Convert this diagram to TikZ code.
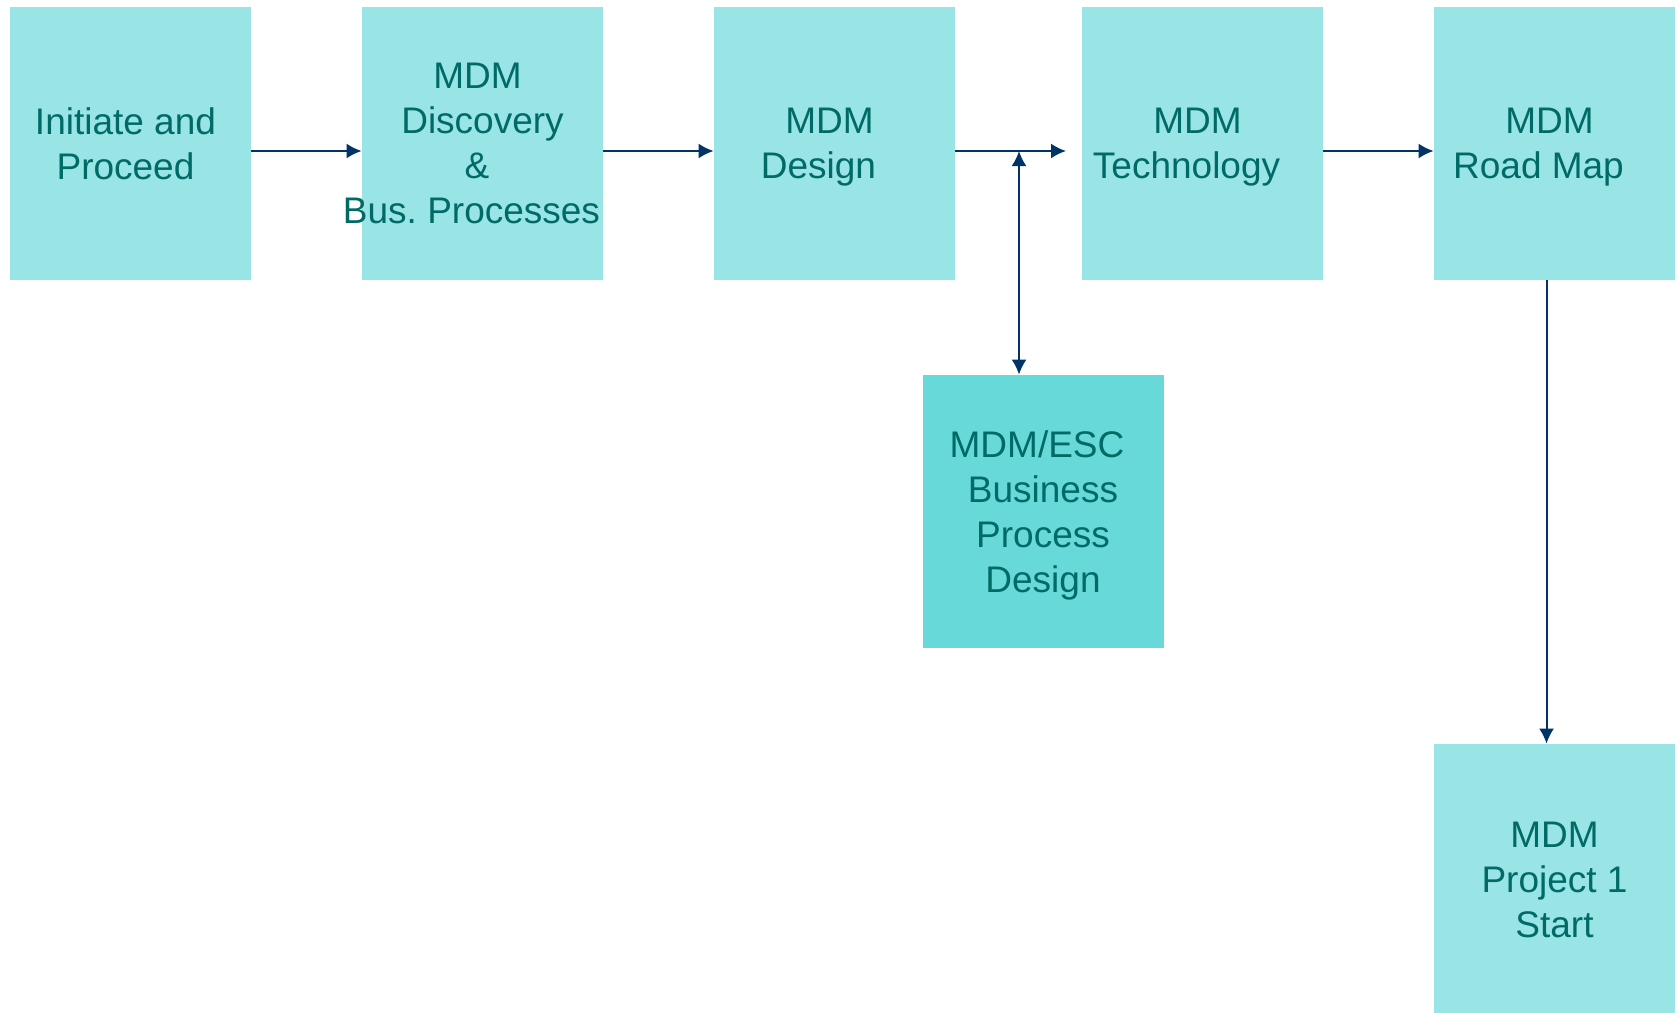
\documentclass[tikz,border=0pt]{standalone}
\usepackage{fontspec}
\setmainfont{Liberation Sans}
\usetikzlibrary{arrows.meta}
\usetikzlibrary{positioning}
\definecolor{boxfill}{HTML}{99E4E5}
\definecolor{escfill}{HTML}{66D9D8}
\definecolor{boxtext}{HTML}{006B66}
\definecolor{flow}{HTML}{003366}
\tikzset{auto,>={Latex[length=7.5pt,width=7.5pt]}, font=\fontsize{18.5}{22.5}\selectfont}
\tikzstyle{block} = [fill=boxfill, rectangle, minimum width=120.5pt, minimum height=136.5pt, inner sep=0pt, text depth=0pt, text=boxtext, align=center]
\tikzstyle{flowline} = [draw=flow, line width=1pt]

\begin{document}
\begin{tikzpicture}[x=0.5pt,y=-0.5pt]
		\useasboundingbox (0,0) rectangle (1679,1012);
		\node [block] (initiate) at (130.5,143.5) {Initiate and\hspace*{5pt}\\Proceed\hspace*{5pt}};
		\node [block] (discovery) at (482.5,143.5) {MDM\hspace*{5pt}\\Discovery\\\makebox[0pt]{\&\hspace*{5.5pt}}\\\makebox[0pt]{Bus.\ Processes\hspace*{11pt}}};
		\node [block] (design) at (834.5,143.5) {MDM\hspace*{5pt}\\Design\hspace*{16pt}};
		\node [block] (technology) at (1202.5,143.5) {MDM\hspace*{5pt}\\Technology\hspace*{16pt}};
		\node [block] (roadmap) at (1554.5,143.5) {MDM\hspace*{5pt}\\Road Map\hspace*{16pt}};
		\node [block, fill=escfill] (esc) at (1043,511.5) {MDM/ESC\hspace*{6pt}\\Business\\Process\\Design};
		\node [block, minimum height=136pt] (project) at (1554.5,880) {MDM\\Project 1\\Start};
		\coordinate (tap) at (1019,151);
		\coordinate (gap) at (1066,151);

		\draw [flowline, ->] ([yshift=-3.75pt]initiate.east) -- ([yshift=-3.75pt]discovery.west);
		\draw [flowline, ->] ([yshift=-3.75pt]discovery.east) -- ([yshift=-3.75pt]design.west);
		\draw [flowline, ->] ([yshift=-3.75pt]design.east) -- (gap);
		\draw [flowline, <->] (tap) -- (tap |- esc.north);
		\draw [flowline, ->] ([yshift=-3.75pt]technology.east) -- ([yshift=-3.75pt]roadmap.west);
		\draw [flowline, ->] ([xshift=-4pt]roadmap.south) -- ([xshift=-4pt]project.north);
	\end{tikzpicture}
\end{document}
